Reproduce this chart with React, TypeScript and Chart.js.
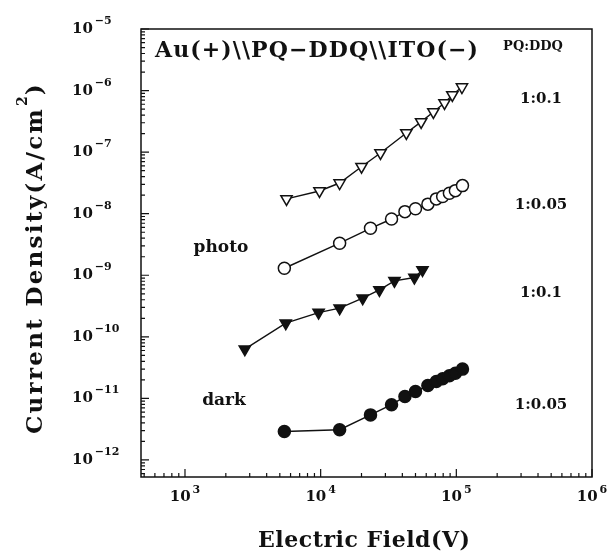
import React, { useEffect, useRef } from "react";
import { Chart, registerables } from "chart.js";

Chart.register(...registerables);

// ---- data ----
const circleField = [5400, 13800, 23300, 33300, 41800, 50000, 61700, 71200, 79300, 88900, 98400, 111000];
const photoCircle = [1.3e-9, 3.32e-9, 5.8e-9, 8.2e-9, 1.08e-8, 1.2e-8, 1.43e-8, 1.74e-8, 1.9e-8, 2.15e-8, 2.37e-8, 2.86e-8];
const darkCircle = [2.9e-12, 3.1e-12, 5.4e-12, 7.9e-12, 1.07e-11, 1.29e-11, 1.62e-11, 1.88e-11, 2.08e-11, 2.33e-11, 2.57e-11, 2.99e-11];

const photoTriField = [5600, 9800, 13800, 20000, 27600, 42800, 55000, 67700, 81800, 93400, 110000];
const photoTri = [1.74e-8, 2.34e-8, 3.15e-8, 5.8e-8, 9.7e-8, 2.05e-7, 3.1e-7, 4.5e-7, 6.3e-7, 8.5e-7, 1.14e-6];

const darkTriField = [2760, 5530, 9660, 13800, 20400, 27100, 35000, 49100, 56300];
const darkTri = [6.3e-11, 1.67e-10, 2.48e-10, 2.92e-10, 4.25e-10, 5.79e-10, 8.11e-10, 9.18e-10, 1.22e-9];

const xTickExponents = [3, 4, 5, 6];
const yTickExponents = [-12, -11, -10, -9, -8, -7, -6, -5];
const xMin = 474;
const xMax = 1e6;
const yMin = 5.29e-13;
const yMax = 1e-5;

const titleText = "Au(+)\\\\PQ\u2212DDQ\\\\ITO(\u2212)";
const ratioHeader = "PQ:DDQ";
const ratioLabels = ["1:0.1", "1:0.05", "1:0.1", "1:0.05"];
const ratioValues = [7.6e-7, 1.44e-8, 5.4e-10, 8.1e-12];
const xTitle = "Electric Field(V)";
const yTitleMain = "Current Density(A/cm";
const yTitleSup = "2";
const yTitleEnd = ")";

const SERIF = '"DejaVu Serif", "Liberation Serif", serif';
const INK = "#111";

const pts = (xs: number[], ys: number[]) => xs.map((x, i) => ({ x, y: ys[i] }));

function fitText(ctx: CanvasRenderingContext2D, text: string, x: number, y: number, font: string, target: number | null, align: string) {
  ctx.font = font;
  (ctx as any).letterSpacing = "0px";
  const w = ctx.measureText(text).width;
  let ls = 0;
  if (target) ls = (target - w) / Math.max(1, text.length - 1);
  (ctx as any).letterSpacing = ls + "px";
  const total = w + ls * (text.length - 1);
  const sx = align === "center" ? x - total / 2 : align === "right" ? x - total : x;
  ctx.textAlign = "left";
  ctx.fillText(text, sx, y);
  (ctx as any).letterSpacing = "0px";
  return total;
}

const decor = {
  id: "decor",
  afterDraw(chart: any) {
    const ctx: CanvasRenderingContext2D = chart.ctx;
    const { left, right, top, bottom } = chart.chartArea;
    const xs = chart.scales.x;
    const ys = chart.scales.y;
    ctx.save();
    ctx.strokeStyle = INK;
    ctx.fillStyle = INK;
    ctx.lineWidth = 1.5;
    ctx.strokeRect(left, top, right - left, bottom - top);

    // minor / major ticks (inward)
    ctx.lineWidth = 1.2;
    ctx.beginPath();
    for (let d = 2; d <= 6; d++) {
      for (let k = 1; k <= 9; k++) {
        const v = k * Math.pow(10, d);
        if (v < xMin || v > xMax) continue;
        const px = xs.getPixelForValue(v);
        const len = k === 1 ? 8 : 4;
        ctx.moveTo(px, bottom);
        ctx.lineTo(px, bottom - len);
      }
    }
    for (let d = -13; d <= -5; d++) {
      for (let k = 1; k <= 9; k++) {
        const v = k * Math.pow(10, d);
        if (v < yMin || v > yMax * 1.0001) continue;
        const py = ys.getPixelForValue(v);
        const len = k === 1 ? 8 : 4;
        ctx.moveTo(left, py);
        ctx.lineTo(left + len, py);
      }
    }
    ctx.stroke();

    // tick labels
    ctx.textBaseline = "alphabetic";
    const baseFont = `bold 15px ${SERIF}`;
    const supFont = `bold 11px ${SERIF}`;
    xTickExponents.forEach((e) => {
      const px = xs.getPixelForValue(Math.pow(10, e));
      ctx.font = baseFont;
      const w1 = ctx.measureText("10").width;
      ctx.font = supFont;
      const w2 = ctx.measureText(String(e)).width;
      const total = w1 + 2 + w2;
      const sx = px - total / 2;
      ctx.textAlign = "left";
      ctx.font = baseFont;
      ctx.fillText("10", sx, 501);
      ctx.font = supFont;
      ctx.fillText(String(e), sx + w1 + 2, 493);
    });
    yTickExponents.forEach((e) => {
      const py = ys.getPixelForValue(Math.pow(10, e));
      ctx.textAlign = "left";
      ctx.font = baseFont;
      const w1 = ctx.measureText("10").width;
      ctx.fillText("10", 72, py + 4);
      ctx.font = supFont;
      ctx.fillText("\u2212" + String(-e), 72 + w1 + 2, py - 5);
    });

    // annotations
    fitText(ctx, titleText, 155, 57, `bold 22px ${SERIF}`, 323, "left");
    fitText(ctx, ratioHeader, 533, 50, `bold 13px ${SERIF}`, null, "center");
    ratioLabels.forEach((t, i) => {
      const py = ys.getPixelForValue(ratioValues[i]);
      fitText(ctx, t, 541, py + 5, `bold 15px ${SERIF}`, null, "center");
    });
    fitText(ctx, "photo", 221, 252, `bold 17px ${SERIF}`, null, "center");
    fitText(ctx, "dark", 224, 405, `bold 17px ${SERIF}`, null, "center");

    // axis titles
    fitText(ctx, xTitle, 364, 547, `bold 22px ${SERIF}`, 212, "center");

    ctx.save();
    ctx.translate(42, 258);
    ctx.rotate(-Math.PI / 2);
    const mainFont = `bold 23px ${SERIF}`;
    const sFont = `bold 14px ${SERIF}`;
    ctx.font = mainFont;
    const wm = ctx.measureText(yTitleMain).width;
    const we = ctx.measureText(yTitleEnd).width;
    ctx.font = sFont;
    const ws = ctx.measureText(yTitleSup).width;
    const span = 352;
    const natural = wm + ws + we + 2;
    const ls = (span - natural) / (yTitleMain.length + 1);
    let x0 = -span / 2;
    ctx.font = mainFont;
    (ctx as any).letterSpacing = ls + "px";
    ctx.textAlign = "left";
    ctx.fillText(yTitleMain, x0, 0);
    x0 += wm + ls * yTitleMain.length;
    (ctx as any).letterSpacing = "0px";
    ctx.font = sFont;
    ctx.fillText(yTitleSup, x0 + 1, -15);
    x0 += ws + 2;
    ctx.font = mainFont;
    ctx.fillText(yTitleEnd, x0, 0);
    ctx.restore();

    ctx.restore();
  },
};

export default function App() {
  const ref = useRef<HTMLCanvasElement | null>(null);
  useEffect(() => {
    if (!ref.current) return;
    const common = { showLine: true, borderColor: INK, borderWidth: 1.4, pointBorderColor: INK, pointBorderWidth: 1.5 };
    const chart = new Chart(ref.current, {
      type: "scatter",
      data: {
        datasets: [
          { ...common, label: "photo 1:0.1", data: pts(photoTriField, photoTri), pointStyle: "triangle", rotation: 180, pointRadius: 6.5, pointBackgroundColor: "#fff" },
          { ...common, label: "photo 1:0.05", data: pts(circleField, photoCircle), pointStyle: "circle", pointRadius: 6, pointBackgroundColor: "#fff" },
          { ...common, label: "dark 1:0.1", data: pts(darkTriField, darkTri), pointStyle: "triangle", rotation: 180, pointRadius: 6.5, pointBackgroundColor: INK },
          { ...common, label: "dark 1:0.05", data: pts(circleField, darkCircle), pointStyle: "circle", pointRadius: 6, pointBackgroundColor: INK },
        ] as any,
      },
      options: {
        animation: false,
        responsive: false,
        devicePixelRatio: 1,
        layout: { padding: { top: 29, right: 17, left: 0, bottom: 0 } },
        plugins: { legend: { display: false }, tooltip: { enabled: false } },
        scales: {
          x: {
            type: "logarithmic",
            min: xMin,
            max: xMax,
            grid: { display: false },
            border: { display: false },
            ticks: { display: false },
            afterBuildTicks: (s: any) => { s.ticks = xTickExponents.map((e) => ({ value: Math.pow(10, e) })); },
            afterFit: (s: any) => { s.height = 79; },
          },
          y: {
            type: "logarithmic",
            min: yMin,
            max: yMax,
            grid: { display: false },
            border: { display: false },
            ticks: { display: false },
            afterBuildTicks: (s: any) => { s.ticks = yTickExponents.map((e) => ({ value: Math.pow(10, e) })); },
            afterFit: (s: any) => { s.width = 141; },
          },
        },
      } as any,
      plugins: [decor],
    });
    return () => chart.destroy();
  }, []);
  return (
    <div style={{ position: "fixed", left: 0, top: 0, width: 609, height: 556, background: "#fff" }}>
      <canvas ref={ref} width={609} height={556} style={{ display: "block" }} />
    </div>
  );
}
